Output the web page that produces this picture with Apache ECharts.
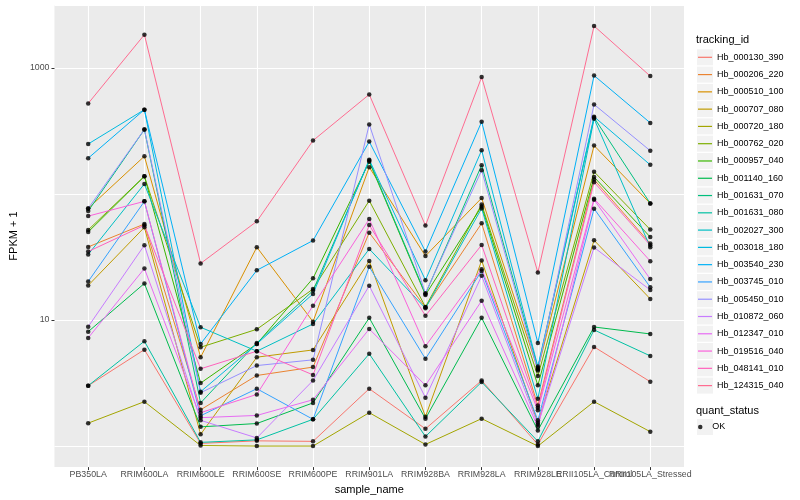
<!DOCTYPE html>
<html><head><meta charset="utf-8">
<script src="https://cdn.jsdelivr.net/npm/echarts@6/dist/echarts.min.js"></script>
<style>html,body{margin:0;padding:0;background:#fff}#c{width:800px;height:500px}</style>
</head><body><div id="c"></div>
<script>
const categories = ['PB350LA','RRIM600LA','RRIM600LE','RRIM600SE','RRIM600PE','RRIM901LA','RRIM928BA','RRIM928LA','RRIM928LE','RRII105LA_Control','RRII105LA_Stressed'];
const trackingIds = ['Hb_000130_390','Hb_000206_220','Hb_000510_100','Hb_000707_080','Hb_000720_180','Hb_000762_020','Hb_000957_040','Hb_001140_160','Hb_001631_070','Hb_001631_080','Hb_002027_300','Hb_003018_180','Hb_003540_230','Hb_003745_010','Hb_005450_010','Hb_010872_060','Hb_012347_010','Hb_019516_040','Hb_048141_010','Hb_124315_040'];
const colors = ['#F8766D','#EA8331','#D89000','#C09B00','#A3A500','#7CAE00','#39B600','#00BB4E','#00BF7D','#00C1A3','#00BFC4','#00BAE0','#00B0F6','#35A2FF','#9590FF','#C77CFF','#E76BF3','#FA62DB','#FF62BC','#FF6C91'];
const yTickValues = [10, 1000];
const yTickLabels = ['10','1000'];
const quantStatus = ['OK'];

// FPKM + 1 per sample, in category order
const hb_000130_390 = [3.01, 5.82, 1.05, 1.10, 1.09, 2.85, 1.37, 3.31, 1.03, 6.12, 3.24];
const hb_000206_220 = [38.0, 57.7, 1.94, 3.63, 4.23, 49.3, 12.6, 58.5, 2.10, 130, 40.4];
const hb_000510_100 = [76.8, 199, 5.07, 37.8, 9.70, 163, 32.2, 92.7, 4.06, 242, 84.1];
const hb_000707_080 = [18.8, 54.3, 1.24, 5.07, 5.79, 29.4, 1.71, 29.6, 1.53, 42.9, 14.7];
const hb_000720_180 = [1.52, 2.25, 1.01, 1.00, 1.00, 1.84, 1.03, 1.65, 1.00, 2.25, 1.30];
const hb_000762_020 = [51.8, 138, 6.08, 8.44, 17.6, 88.4, 12.7, 82.6, 3.59, 150, 52.1];
const hb_000957_040 = [49.9, 138, 3.16, 6.46, 21.4, 180, 15.8, 79.6, 3.03, 136, 45.5];
const hb_001140_160 = [8.08, 19.5, 1.42, 1.51, 2.20, 10.4, 1.65, 10.4, 1.33, 8.80, 7.75];
const hb_001631_070 = [73.1, 324, 2.20, 6.58, 17.1, 184, 16.1, 169, 4.17, 403, 84.1];
const hb_001631_080 = [3.01, 6.79, 1.07, 1.12, 1.63, 5.39, 1.19, 3.22, 1.09, 8.34, 5.19];
const hb_002027_300 = [33.1, 120, 8.76, 5.66, 9.30, 36.6, 12.4, 76.8, 2.37, 395, 37.8];
const hb_003018_180 = [249, 466, 2.70, 6.46, 16.1, 187, 20.7, 222, 4.27, 410, 170];
const hb_003540_230 = [192, 466, 6.46, 24.8, 42.7, 260, 34.9, 374, 6.58, 869, 366];
const hb_003745_010 = [20.2, 87.3, 1.74, 2.85, 1.63, 26.4, 4.92, 24.5, 1.60, 76.4, 18.2];
const hb_005450_010 = [76.8, 324, 2.65, 4.35, 4.83, 356, 16.3, 154, 3.97, 513, 220];
const hb_010872_060 = [8.85, 39.2, 1.60, 1.16, 3.31, 18.7, 2.42, 22.4, 1.48, 37.6, 17.3];
const hb_012347_010 = [7.21, 25.6, 1.68, 1.75, 2.33, 8.49, 3.03, 14.2, 1.42, 90.0, 21.1];
const hb_019516_040 = [66.7, 87.3, 1.84, 2.57, 13.0, 63.2, 6.20, 25.3, 1.92, 91.6, 29.3];
const hb_048141_010 = [34.9, 56.4, 4.10, 5.66, 3.67, 56.6, 10.8, 39.4, 2.01, 124, 39.2];
const hb_124315_040 = [522, 1833, 28.1, 60.6, 265, 615, 56.1, 845, 23.8, 2148, 860];

const seriesValues = [hb_000130_390, hb_000206_220, hb_000510_100, hb_000707_080, hb_000720_180, hb_000762_020, hb_000957_040, hb_001140_160, hb_001631_070, hb_001631_080, hb_002027_300, hb_003018_180, hb_003540_230, hb_003745_010, hb_005450_010, hb_010872_060, hb_012347_010, hb_019516_040, hb_048141_010, hb_124315_040];

const FONT = '"Liberation Sans", Arial, Helvetica, sans-serif';
const chart = echarts.init(document.getElementById('c'), null, {renderer: 'canvas'});

const lineSeries = trackingIds.map((name, k) => ({
  name: name,
  type: 'line',
  data: seriesValues[k].map((v, i) => [i, v]),
  showSymbol: false,
  symbol: 'none',
  lineStyle: {width: 1, color: colors[k]},
  itemStyle: {color: colors[k]},
  emphasis: {disabled: true},
  z: 2
}));

const pointData = [];
seriesValues.forEach(arr => arr.forEach((v, i) => pointData.push([i, v])));

const keyBoxes = trackingIds.map((n, i) => ({
  type: 'rect', left: 697, top: 49.3 + i * 17.28,
  shape: {width: 16, height: 16}, style: {fill: '#F2F2F2'}, z: 0
}));
keyBoxes.push({type: 'rect', left: 697, top: 419, shape: {width: 16, height: 16}, style: {fill: '#F2F2F2'}, z: 0});

const yMin = 0.681, yMax = 3152;
const xMin = -0.6, xMax = 10.6;
const catIdx = categories.map((c, i) => i);
// empty sentinel labels at both ends so that no real label is dropped by ECharts' min/max overlap check
const xLabelValues = [xMin + 0.01].concat(catIdx, [xMax - 0.01]);

chart.setOption({
  animation: false,
  textStyle: {fontFamily: FONT},
  grid: {left: 45, right: 116, top: 5, bottom: 32, show: true, backgroundColor: '#EBEBEB', borderWidth: 0, containLabel: false},
  title: [
    {text: 'tracking_id', left: 696, top: 34, padding: 0, textStyle: {fontSize: 11, fontWeight: 'normal', color: '#000', fontFamily: FONT}},
    {text: 'quant_status', left: 696, top: 405, padding: 0, textStyle: {fontSize: 11, fontWeight: 'normal', color: '#000', fontFamily: FONT}}
  ],
  legend: [
    {
      data: trackingIds,
      orient: 'vertical', left: 698, top: 49.3, padding: 0,
      itemWidth: 14, itemHeight: 16, itemGap: 1.28,
      icon: 'path://M0,0h14v1.2h-14z',
      selectedMode: false,
      textStyle: {fontSize: 9, color: '#000', fontFamily: FONT, lineHeight: 16}
    },
    {
      data: quantStatus,
      orient: 'vertical', left: 698, top: 419, padding: 0,
      itemWidth: 14, itemHeight: 4.5, itemGap: 0,
      icon: 'circle',
      selectedMode: false,
      textStyle: {fontSize: 9, color: '#000', fontFamily: FONT, lineHeight: 16}
    }
  ],
  graphic: keyBoxes,
  xAxis: {
    type: 'value', min: xMin, max: xMax,
    name: 'sample_name', nameLocation: 'middle', nameGap: 13,
    nameTextStyle: {fontSize: 11, color: '#000', fontFamily: FONT},
    axisLine: {show: false},
    axisTick: {show: true, length: 3, lineStyle: {color: '#333', width: 1}, customValues: catIdx},
    axisLabel: {customValues: xLabelValues,
      formatter: v => (Math.abs(v - Math.round(v)) < 1e-6 ? (categories[Math.round(v)] || '') : ''),
      fontSize: 8.8, color: '#4D4D4D', margin: 3, fontFamily: FONT, showMinLabel: true, showMaxLabel: true, hideOverlap: false},
    splitLine: {show: true, lineStyle: {color: '#fff', width: 1.1}}
  },
  yAxis: [{
    type: 'log', logBase: 10, min: yMin, max: yMax,
    name: 'FPKM + 1', nameLocation: 'middle', nameGap: 28, nameRotate: 90,
    nameTextStyle: {fontSize: 11, color: '#000', fontFamily: FONT},
    axisLine: {show: false},
    axisTick: {show: false},
    axisLabel: {
      formatter: v => { const l = Math.log10(v); for (let j = 0; j < yTickValues.length; j++) { if (Math.abs(l - Math.log10(yTickValues[j])) < 1e-6) return yTickLabels[j]; } return ''; },
      fontSize: 8.8, color: '#4D4D4D', margin: 5, fontFamily: FONT
    },
    splitLine: {show: true, lineStyle: {color: '#fff', width: 1}}
  }, {
    type: 'log', logBase: 10, min: yMin, max: yMax, position: 'left', offset: 0,
    axisLine: {show: false},
    axisTick: {show: true, length: 3, lineStyle: {color: '#333', width: 1}, customValues: yTickValues},
    axisLabel: {show: false},
    splitLine: {show: false}
  }],
  series: lineSeries.concat([{
    name: 'OK', type: 'scatter', data: pointData,
    symbol: 'circle', symbolSize: 4.5,
    itemStyle: {color: '#000'}, emphasis: {disabled: true}, z: 5
  }])
});
</script></body></html>
